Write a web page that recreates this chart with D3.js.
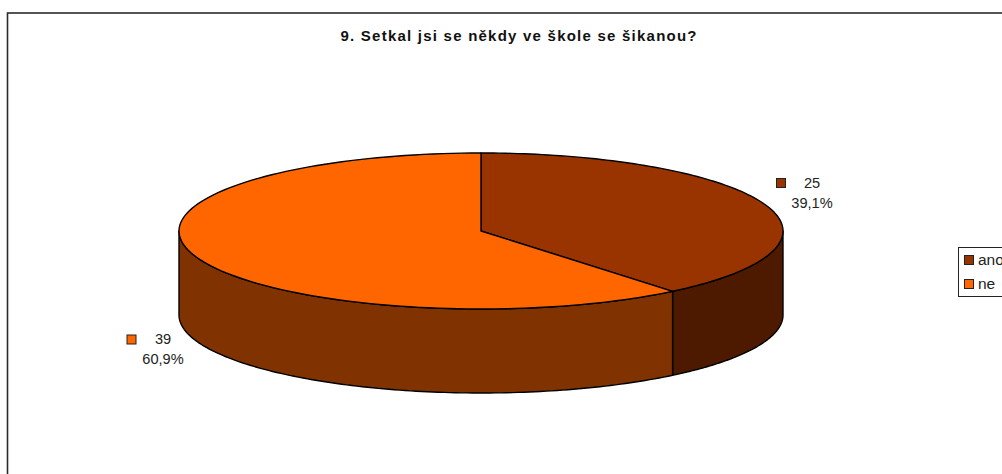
<!DOCTYPE html>
<html>
<head>
<meta charset="utf-8">
<script src="https://cdn.jsdelivr.net/npm/d3@7"></script>
<style>
html,body{margin:0;padding:0;background:#fff;overflow:hidden}
svg{display:block;font-family:"Liberation Sans",Arial,sans-serif}
</style>
</head>
<body>
<svg id="chart" width="1002" height="474"></svg>
<script>
const titleText = "9. Setkal jsi se někdy ve škole se šikanou?";
const categories = ["ano", "ne"];
const counts = [25, 39];
const percentLabels = ["39,1%", "60,9%"];
const topColors = ["#993300", "#FF6600"];
const wallColors = ["#4D1A00", "#803300"];

const W = 1002, H = 474;
const cx = 481, cy = 231, rx = 302, ry = 78, depth = 84;
const svg = d3.select("#chart");

// Chart frame: runs past the right and bottom edges of the page
svg.append("rect").attr("x", 7.5).attr("y", 13).attr("width", 1040).attr("height", 520)
  .attr("fill", "#fff").attr("stroke", "#2b2b2b").attr("stroke-width", 1.6);

svg.append("text").attr("x", 518.5).attr("y", 41)
  .attr("text-anchor", "middle").attr("font-size", 15).attr("font-weight", "bold")
  .attr("fill", "#111").attr("textLength", 356).attr("lengthAdjust", "spacing").text(titleText);

// Pie angles: clockwise from twelve o'clock, in source order
const arcs = d3.pie().sort(null)(counts);
const px = d3.scaleLinear().domain([-1, 1]).range([cx - rx, cx + rx]);
const py = d3.scaleLinear().domain([-1, 1]).range([cy - ry, cy + ry]);
const pt = (a, dz = 0) => [px(Math.sin(a)), py(-Math.cos(a)) + dz];
const line = d3.line();
const sweep = (a0, a1, dz = 0) =>
  d3.range(0, 121).map(i => pt(a0 + (a1 - a0) * i / 120, dz));

// Front walls: only the part of each slice facing the viewer (90° to 270°)
arcs.forEach((d, i) => {
  const a0 = Math.max(d.startAngle, Math.PI / 2);
  const a1 = Math.min(d.endAngle, 3 * Math.PI / 2);
  if (a1 <= a0) return;
  const pts = sweep(a0, a1).concat(sweep(a1, a0, depth));
  svg.append("path").attr("d", line(pts) + "Z")
    .attr("fill", wallColors[i]).attr("stroke", "#000").attr("stroke-width", 1.4)
    .attr("stroke-linejoin", "round");
});

// Top faces
arcs.forEach((d, i) => {
  const pts = [[cx, cy]].concat(sweep(d.startAngle, d.endAngle));
  svg.append("path").attr("d", line(pts) + "Z")
    .attr("fill", topColors[i]).attr("stroke", "#000").attr("stroke-width", 1.4)
    .attr("stroke-linejoin", "round");
});

// Data labels with colour keys
const labelPos = [
  { key: [776.5, 178.5], x: 812, y1: 188, y2: 208 },
  { key: [127, 335], x: 163, y1: 344, y2: 364 }
];
labelPos.forEach((p, i) => {
  svg.append("rect").attr("x", p.key[0]).attr("y", p.key[1]).attr("width", 9).attr("height", 9)
    .attr("fill", topColors[i]).attr("stroke", "#222").attr("stroke-width", 1);
  svg.append("text").attr("x", p.x).attr("y", p.y1).attr("text-anchor", "middle")
    .attr("font-size", 14.6).attr("fill", "#222").text(counts[i]);
  svg.append("text").attr("x", p.x).attr("y", p.y2).attr("text-anchor", "middle")
    .attr("font-size", 14.6).attr("fill", "#222").text(percentLabels[i]);
});

// Legend box, clipped by the page edge
const legend = svg.append("g");
legend.append("rect").attr("x", 958.5).attr("y", 247.5).attr("width", 80).attr("height", 49)
  .attr("fill", "#fff").attr("stroke", "#222").attr("stroke-width", 1);
categories.forEach((c, i) => {
  const y = 255.5 + i * 24;
  legend.append("rect").attr("x", 964.5).attr("y", y).attr("width", 9).attr("height", 9)
    .attr("fill", topColors[i]).attr("stroke", "#222").attr("stroke-width", 1);
  legend.append("text").attr("x", 978).attr("y", y + 9.5)
    .attr("font-size", 15.5).attr("fill", "#222").text(c);
});
</script>
</body>
</html>
